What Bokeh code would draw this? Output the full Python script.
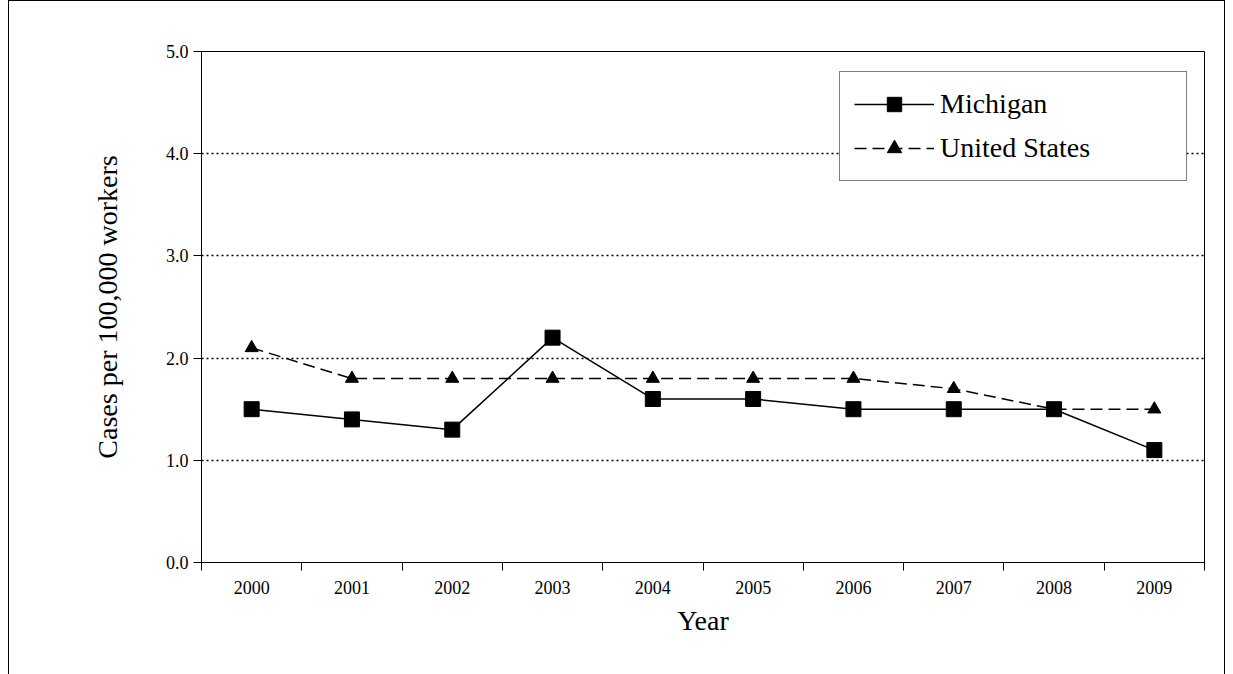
from bokeh.plotting import figure
from bokeh.models import LinearAxis, FixedTicker, Legend, LegendItem, Range1d
from bokeh.embed import file_html
from bokeh.resources import INLINE

years = ["2000", "2001", "2002", "2003", "2004", "2005", "2006", "2007", "2008", "2009"]
michigan = [1.5, 1.4, 1.3, 2.2, 1.6, 1.6, 1.5, 1.5, 1.5, 1.1]
united_states = [2.1, 1.8, 1.8, 1.8, 1.8, 1.8, 1.8, 1.7, 1.5, 1.5]
y_ticks = [0, 1, 2, 3, 4, 5]

FONT = "Liberation Serif"
xs = [i + 0.5 for i in range(len(years))]

p = figure(width=1217, height=700, output_backend="svg", toolbar_location=None,
           x_range=Range1d(0, len(years)), y_range=Range1d(0, 5),
           x_axis_location=None, y_axis_location=None,
           min_border_left=192, min_border_right=22, min_border_top=50, min_border_bottom=139)
p.styles = {"border": "1px solid black", "box-sizing": "border-box", "margin-left": "8px"}
p.outline_line_color = "black"
p.outline_line_width = 1
p.background_fill_color = "white"

# tick marks at category boundaries
xa = LinearAxis(ticker=FixedTicker(ticks=list(range(len(years) + 1))))
xa.major_label_text_font_size = "0pt"
xa.major_label_standoff = 0
xa.major_tick_out = 8
xa.major_tick_in = 0
xa.minor_tick_line_color = None
xa.axis_line_color = "black"
p.add_layout(xa, "below")

# year labels at category centres
xl = LinearAxis(ticker=FixedTicker(ticks=xs), axis_label="Year")
xl.major_label_overrides = {x: y for x, y in zip(xs, years)}
xl.axis_line_color = None
xl.major_tick_line_color = None
xl.minor_tick_line_color = None
xl.major_label_standoff = 4
xl.major_label_text_font = FONT
xl.major_label_text_font_size = "18px"
xl.major_label_text_color = "black"
xl.axis_label_text_font = FONT
xl.axis_label_text_font_size = "28px"
xl.axis_label_text_font_style = "normal"
xl.axis_label_text_color = "black"
xl.axis_label_standoff = 8
p.add_layout(xl, "below")

ya = LinearAxis(ticker=FixedTicker(ticks=y_ticks), axis_label="Cases per 100,000 workers")
ya.major_label_overrides = {t: f"{t:.1f}" for t in y_ticks}
ya.major_tick_out = 8
ya.major_tick_in = 0
ya.minor_tick_line_color = None
ya.major_label_text_font = FONT
ya.major_label_text_font_size = "18px"
ya.major_label_text_color = "black"
ya.axis_label_text_font = FONT
ya.axis_label_text_font_size = "28px"
ya.axis_label_text_font_style = "normal"
ya.axis_label_text_color = "black"
ya.axis_label_standoff = 40
p.add_layout(ya, "left")

p.xgrid.visible = False
p.ygrid.ticker = FixedTicker(ticks=y_ticks[1:])
p.ygrid.grid_line_color = "black"
p.ygrid.grid_line_dash = "2 3"
p.ygrid.grid_line_width = 1.5

mi_line = p.line(xs, michigan, line_color="black", line_width=1.5)
mi_pts = p.scatter(xs, michigan, marker="square", size=15, fill_color="black", line_color="black")
us_line = p.line(xs, united_states, line_color="black", line_width=1.5, line_dash="12 6")
us_pts = p.scatter(xs, united_states, marker="triangle", size=13, fill_color="black", line_color="black")

legend = Legend(items=[LegendItem(label="Michigan", renderers=[mi_line, mi_pts]),
                       LegendItem(label="United States", renderers=[us_line, us_pts])],
                location=(638, 381))
legend.label_text_font = FONT
legend.label_text_font_size = "28px"
legend.label_text_color = "black"
legend.glyph_width = 80
legend.glyph_height = 36
legend.spacing = 8
legend.padding = 14
legend.margin = 0
legend.label_standoff = 6
legend.label_width = 232
legend.border_line_color = "black"
legend.border_line_width = 1
legend.background_fill_alpha = 1
p.add_layout(legend)

open("out.html", "w").write(file_html(p, INLINE))
